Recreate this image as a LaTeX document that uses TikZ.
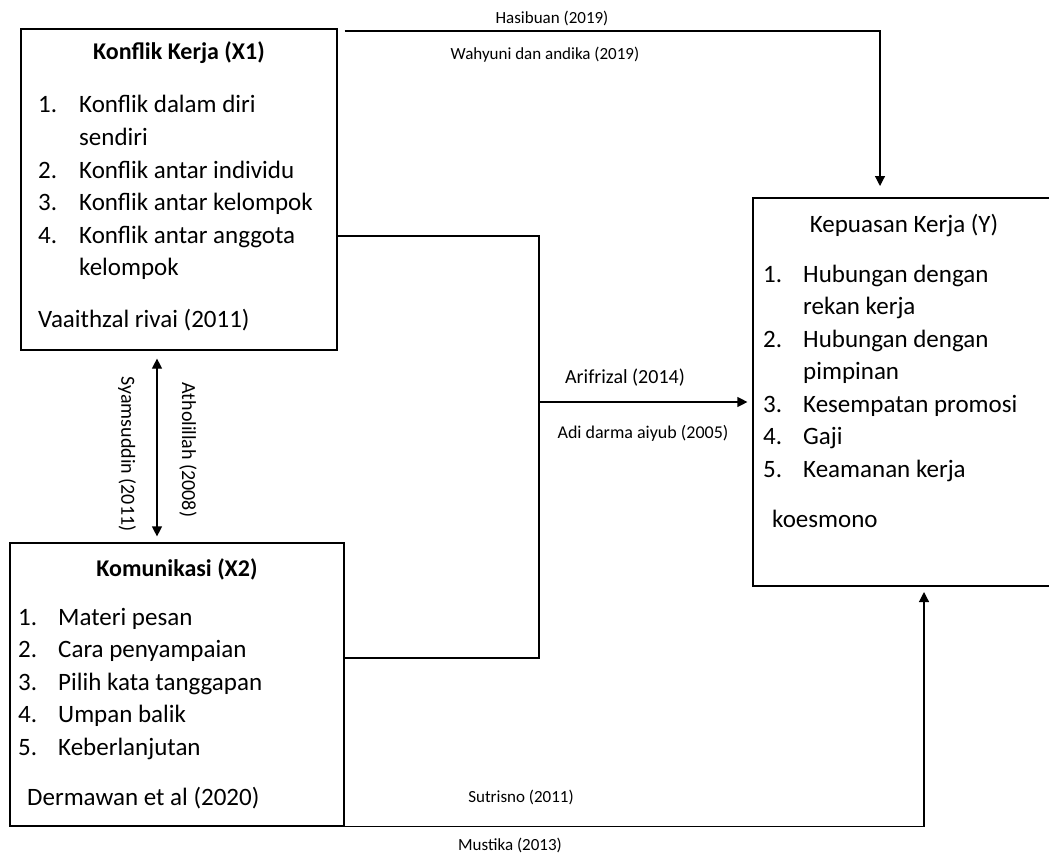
\documentclass[tikz,border=0pt]{standalone}
\usepackage{fontspec}
\setmainfont{Carlito}
\usetikzlibrary{arrows.meta}
\tikzset{
  box/.style={draw, line width=1.2pt, inner sep=0pt},
  item/.style={anchor=base west, inner sep=0pt, font=\fontsize{25}{30}\selectfont},
  title/.style={anchor=base, inner sep=0pt, font=\fontsize{25}{30}\selectfont},
  ref/.style={inner sep=0pt, font=\fontsize{17}{20}\selectfont},
  conn/.style={line width=1.2pt},
  arr/.style={conn, -{Triangle[length=10pt,width=10pt]}},
}

\begin{document}
\begin{tikzpicture}[x=1pt, y=-1pt]
  \useasboundingbox (0,0) rectangle (1049,856);
  \clip (0,0) rectangle (1049,856);
  % boxes
  \node[box, minimum width=316pt, minimum height=321pt] (x1) at (179,189.5) {};
  \node[box, minimum width=334pt, minimum height=283pt] (x2) at (177,684.5) {};
  \node[box, minimum width=302pt, minimum height=388pt] (y) at (904,392) {};

  % box texts
  \node[title, font=\fontsize{24}{29}\selectfont\bfseries] (x1title) at (179,60) {Konflik Kerja (X1)};
  \foreach \n/\t [count=\i] in {1./Konflik dalam diri, /sendiri, 2./Konflik antar individu,
      3./Konflik antar kelompok, 4./Konflik antar anggota, /kelompok} {
    \node[item] (x1n\i) at (38,{113+32.5*(\i-1)}) {\n};
    \node[item] (x1t\i) at (79,{113+32.5*(\i-1)}) {\t};
  }
  \node[item] (x1src) at (38,327) {Vaaithzal rivai (2011)};

  \node[title, font=\fontsize{24}{29}\selectfont\bfseries] (x2title) at (177,576) {Komunikasi (X2)};
  \foreach \n/\t [count=\i] in {1./Materi pesan, 2./Cara penyampaian, 3./Pilih kata tanggapan,
      4./Umpan balik, 5./Keberlanjutan} {
    \node[item] (x2n\i) at (18,{625+32.5*(\i-1)}) {\n};
    \node[item] (x2t\i) at (58,{625+32.5*(\i-1)}) {\t};
  }
  \node[item] (x2src) at (27,805) {Dermawan et al (2020)};

  \node[title] (ytitle) at (904,232) {Kepuasan Kerja (Y)};
  \foreach \n/\t [count=\i] in {1./Hubungan dengan, /rekan kerja, 2./Hubungan dengan, /pimpinan,
      3./Kesempatan promosi, 4./Gaji, 5./Keamanan kerja} {
    \node[item] (yn\i) at (763,{282+32.5*(\i-1)}) {\n};
    \node[item] (yt\i) at (803,{282+32.5*(\i-1)}) {\t};
  }
  \node[item] (ysrc) at (772,527) {koesmono};

  % connectors
  \coordinate (topbend) at (880,31);
  \coordinate (topend) at (880,186);
  \draw[arr] ([xshift=7pt]x1.east |- topbend) -- (topbend) -- (topend);

  \coordinate (join) at (539,402);
  \draw[conn] (x1.east |- 0,236) -| (join);
  \draw[conn] (x2.east |- 0,658) -| (join);
  \draw[arr] (join) -- ([xshift=-5pt]y.west |- join);

  \coordinate (botend) at (924,592);
  \draw[arr] (x2.south east) -| (botend);

  \coordinate (dx) at (157,0);
  \path (x1.south -| dx) ++(0,8) coordinate (d1);
  \path (x2.north -| dx) ++(0,-6) coordinate (d2);
  \draw[conn, {Triangle[length=10pt,width=10pt]}-{Triangle[length=10pt,width=10pt]}] (d1) -- (d2);

  % references
  \node[ref] (l1) at (552,18) {Hasibuan (2019)};
  \node[ref] (l2) at (545,55) {Wahyuni dan andika (2019)};
  \node[ref, font=\fontsize{20}{24}\selectfont] (l3) at (625,378) {Arifrizal (2014)};
  \node[ref, font=\fontsize{18}{22}\selectfont] (l4) at (643,433) {Adi darma aiyub (2005)};
  \node[ref] (l5) at (521,797) {Sutrisno (2011)};
  \node[ref] (l6) at (510,845) {Mustika (2013)};
  \node[ref, rotate=-90, font=\fontsize{20}{24}\selectfont] (l7) at (127,454) {Syamsuddin (2011)};
  \node[ref, rotate=-90, font=\fontsize{20}{24}\selectfont] (l8) at (188,450) {Atholillah (2008)};
\end{tikzpicture}
\end{document}
